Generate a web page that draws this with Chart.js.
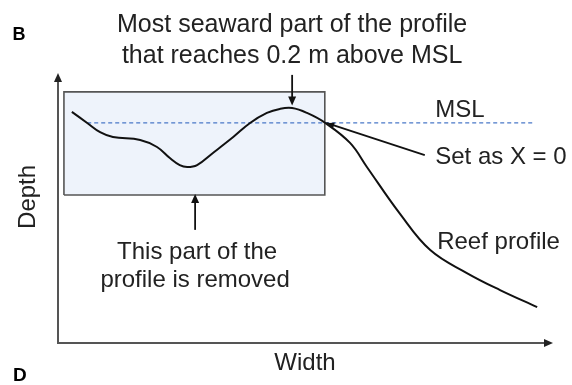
<!DOCTYPE html>
<html>
<head>
<meta charset="utf-8">
<script src="https://cdn.jsdelivr.net/npm/chart.js@4/dist/chart.umd.min.js"></script>
<style>
  html, body { margin: 0; padding: 0; background: #ffffff; }
  #wrap { width: 572px; height: 385px; position: relative; }
</style>
</head>
<body>
<div id="wrap"><canvas id="c" width="572" height="385"></canvas></div>
<script>
// ---- schematic data (arbitrary units: width 0..100, height 0..100) ----
const profileWidth  = [2.8, 5.9, 8.5, 11.1, 16.6, 20.0, 22.6, 24.6, 26.1, 28.1, 31.3, 35.4, 38.8, 42.2, 44.8, 47.3, 50.3, 54.0, 59.0, 62.4, 69.1, 75.2, 82.6, 89.3, 96.8];
const profileHeight = [85.6, 81.5, 78.1, 76.3, 75.2, 72.6, 68.5, 65.9, 65.2, 65.9, 70.4, 76.3, 81.5, 85.2, 86.7, 87.0, 85.2, 81.5, 74.1, 65.2, 47.8, 34.4, 25.9, 19.6, 13.3];
const mslLevel = 81.5;
const mslExtent = [5.9, 95.8];
const removedBoxWidth = [1.2, 53.9];
const removedBoxHeight = [54.8, 93.0];
const zeroPoint = [54.0, 81.5];
const peakPoint = [47.3, 87.6];
const axisLabels = ["Width", "Depth"];
const panelLabels = ["B", "D"];
const titleLines = ["Most seaward part of the profile", "that reaches 0.2 m above MSL"];
const removedLines = ["This part of the", "profile is removed"];
const sideLabels = ["MSL", "Set as X = 0", "Reef profile"];

const profilePts = profileWidth.map((x, i) => ({ x: x, y: profileHeight[i] }));
const mslPts = mslExtent.map(x => ({ x: x, y: mslLevel }));
const boxPts = [
  { x: removedBoxWidth[0], y: removedBoxHeight[0] },
  { x: removedBoxWidth[1], y: removedBoxHeight[0] },
  { x: removedBoxWidth[1], y: removedBoxHeight[1] },
  { x: removedBoxWidth[0], y: removedBoxHeight[1] },
  { x: removedBoxWidth[0], y: removedBoxHeight[0] }
];

const FONT = '"Liberation Sans", Arial, Helvetica, sans-serif';
const TEXT = '#222222';

function arrowHead(ctx, x1, y1, x2, y2, len, half) {
  const a = Math.atan2(y2 - y1, x2 - x1);
  ctx.beginPath();
  ctx.moveTo(x2, y2);
  ctx.lineTo(x2 - len * Math.cos(a) + half * Math.sin(a), y2 - len * Math.sin(a) - half * Math.cos(a));
  ctx.lineTo(x2 - len * Math.cos(a) - half * Math.sin(a), y2 - len * Math.sin(a) + half * Math.cos(a));
  ctx.closePath();
  ctx.fill();
}

const schematicPlugin = {
  id: 'schematic',
  beforeDatasetsDraw(chart) {
    const ctx = chart.ctx, xs = chart.scales.x, ys = chart.scales.y;
    const X = v => xs.getPixelForValue(v), Y = v => ys.getPixelForValue(v);
    ctx.save();
    ctx.strokeStyle = '#555555';
    ctx.fillStyle = '#222222';
    ctx.lineWidth = 2;
    ctx.beginPath();
    ctx.moveTo(X(0), Y(100) + 4);
    ctx.lineTo(X(0), Y(0));
    ctx.lineTo(X(100) - 4, Y(0));
    ctx.stroke();
    arrowHead(ctx, X(0), Y(0), X(0), Y(100), 9, 4);
    arrowHead(ctx, X(0), Y(0), X(100), Y(0), 9, 4);
    ctx.restore();
  },
  afterDatasetsDraw(chart) {
    const ctx = chart.ctx, xs = chart.scales.x, ys = chart.scales.y;
    const X = v => xs.getPixelForValue(v), Y = v => ys.getPixelForValue(v);
    ctx.save();
    ctx.strokeStyle = '#111111';
    ctx.fillStyle = '#111111';
    ctx.lineWidth = 1.8;
    let x1 = X(peakPoint[0]), y1 = Y(99.3), x2 = X(peakPoint[0]), y2 = Y(peakPoint[1]) - 1;
    ctx.beginPath(); ctx.moveTo(x1, y1); ctx.lineTo(x2, y2 - 6); ctx.stroke();
    arrowHead(ctx, x1, y1, x2, y2, 9, 4);
    x1 = X(27.7); y1 = Y(41.9); x2 = X(27.7); y2 = Y(removedBoxHeight[0]) - 1;
    ctx.beginPath(); ctx.moveTo(x1, y1); ctx.lineTo(x2, y2 + 6); ctx.stroke();
    arrowHead(ctx, x1, y1, x2, y2, 9, 4);
    x1 = X(74.1); y1 = Y(69.6); x2 = X(zeroPoint[0]) + 1; y2 = Y(zeroPoint[1]);
    ctx.beginPath(); ctx.moveTo(x1, y1); ctx.lineTo(x2, y2); ctx.stroke();
    arrowHead(ctx, x1, y1, x2 + 1, y2 + 0.3, 7, 3);

    ctx.fillStyle = TEXT;
    ctx.textBaseline = 'middle';
    ctx.font = '25px ' + FONT;
    ctx.textAlign = 'center';
    ctx.fillText(titleLines[0], X(peakPoint[0]), Y(117.8));
    ctx.fillText(titleLines[1], X(peakPoint[0]), Y(106.3));
    ctx.font = '24px ' + FONT;
    ctx.fillText(removedLines[0], X(28.1), Y(33.7));
    ctx.fillText(removedLines[1], X(27.7), Y(23.3));
    ctx.textAlign = 'left';
    ctx.fillText(sideLabels[0], X(76.2), Y(86.3));
    ctx.fillText(sideLabels[1], X(76.2), Y(68.9));
    ctx.fillText(sideLabels[2], X(76.6), Y(37.4));
    ctx.textAlign = 'center';
    ctx.fillText(axisLabels[0], X(49.9), Y(-7.4));
    ctx.save();
    ctx.translate(X(-5.9), Y(54.1));
    ctx.rotate(-Math.PI / 2);
    ctx.fillText(axisLabels[1], 0, 0);
    ctx.restore();
    ctx.font = 'bold 18px ' + FONT;
    ctx.fillStyle = '#000000';
    ctx.fillText(panelLabels[0], X(-7.9), Y(114));
    ctx.font = 'bold 19px ' + FONT;
    ctx.fillText(panelLabels[1], X(-7.7), Y(-12.2));
    ctx.restore();
  }
};

new Chart(document.getElementById('c'), {
  type: 'scatter',
  data: {
    datasets: [
      {
        data: profilePts, showLine: true, borderColor: '#111111', borderWidth: 2,
        pointRadius: 0, tension: 0.4, fill: false, order: 1, clip: false
      },
      {
        data: mslPts, showLine: true, borderColor: '#4a78c8', borderWidth: 1.3,
        borderDash: [4, 3], pointRadius: 0, fill: false, order: 2, clip: false
      },
      {
        data: boxPts, showLine: true, borderColor: '#555555', borderWidth: 1.6,
        backgroundColor: '#eef3fb', pointRadius: 0, tension: 0, fill: 'shape', order: 3, clip: false
      }
    ]
  },
  options: {
    responsive: false,
    animation: false,
    layout: { padding: { left: 58, right: 19, top: 73, bottom: 42 } },
    scales: {
      x: { type: 'linear', min: 0, max: 100, display: false },
      y: { type: 'linear', min: 0, max: 100, display: false }
    },
    plugins: { legend: { display: false }, tooltip: { enabled: false } }
  },
  plugins: [schematicPlugin]
});
</script>
</body>
</html>
